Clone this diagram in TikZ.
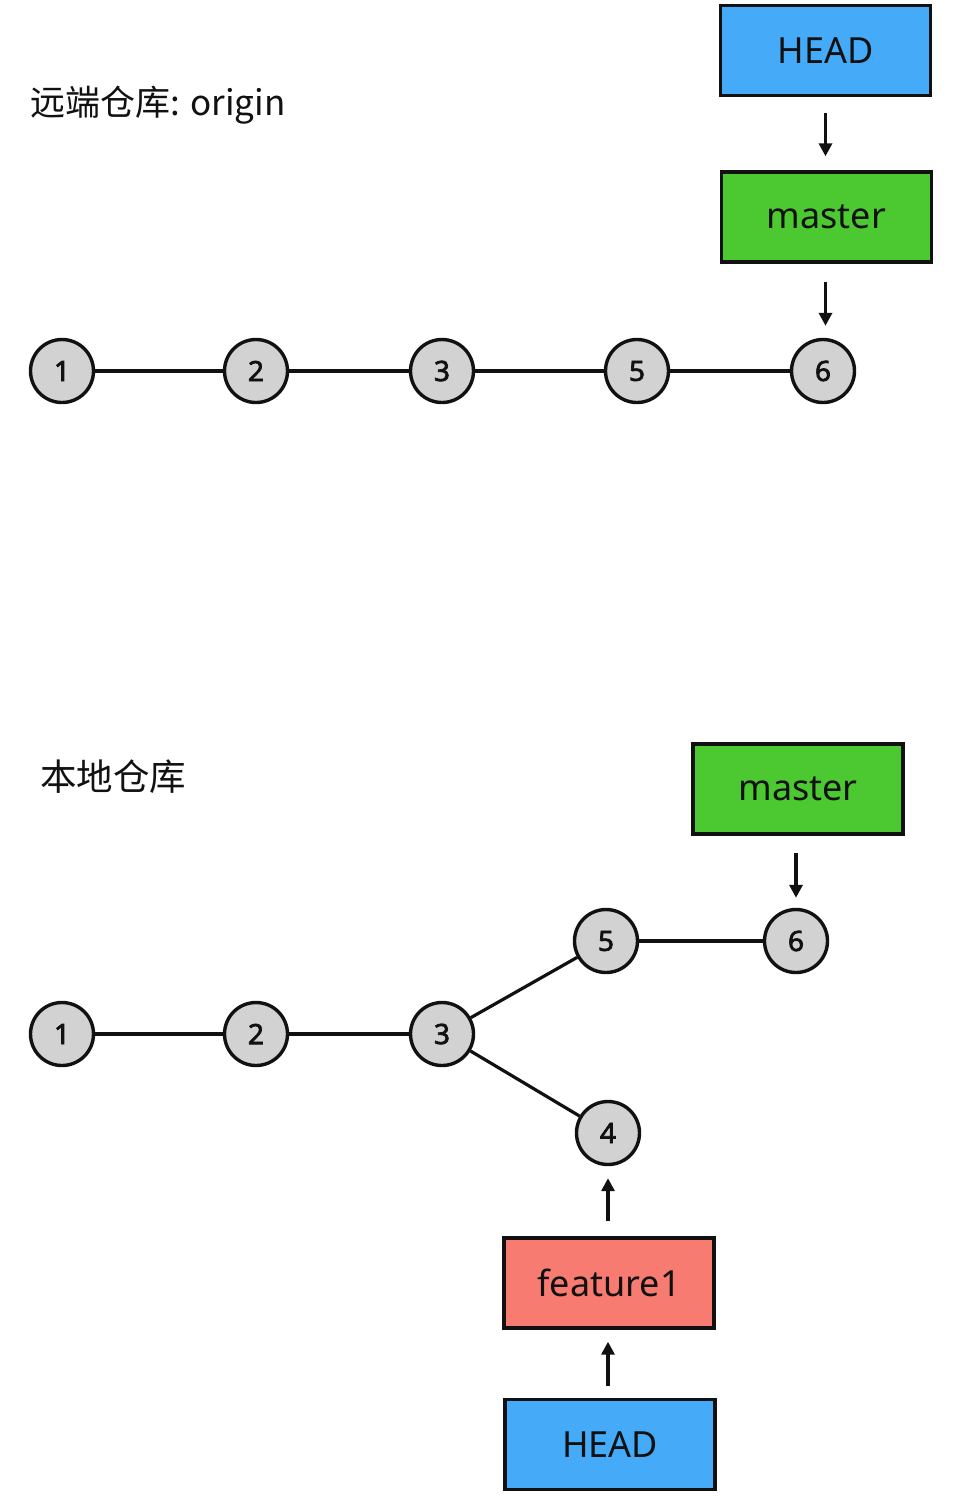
\documentclass[tikz,border=0pt]{standalone}
\usepackage{fontspec}
\setmainfont{Noto Sans}
\newfontfamily\cjk{Noto Sans CJK SC}
\newfontfamily\digitfont[FakeBold=2.5]{Noto Sans}
\usetikzlibrary{arrows.meta}
\definecolor{headblue}{HTML}{45AAF8}
\definecolor{mastergreen}{HTML}{4CC930}
\definecolor{featred}{HTML}{F77B70}
\definecolor{commitgray}{HTML}{D2D2D2}
\definecolor{inkc}{HTML}{111111}
\begin{document}
\begin{tikzpicture}[x=1pt,y=-1pt,
  refbox/.style={draw=inkc,line width=3.4pt,minimum width=210pt,minimum height=90pt,inner sep=0pt,
    font=\fontsize{36}{40}\selectfont,text=inkc},
  commit/.style={circle,draw=inkc,line width=3.4pt,fill=commitgray,minimum size=63pt,inner sep=0pt,
    font=\digitfont\fontsize{28}{30}\selectfont,text=inkc},
  edge/.style={draw=inkc,line width=3.2pt},
  ptr/.style={draw=inkc,line width=3.4pt,-{Triangle[length=13pt,width=13pt]}},
  lbl/.style={anchor=west,inner sep=0pt,text=inkc,font=\cjk\fontsize{35}{40}\selectfont}
]
\useasboundingbox (0,0) rectangle (968,1502);
\fill[white] (0,0) rectangle (968,1502);

% ---- remote ----
\node[lbl] (rlabel) at (30,105) {远端仓库: origin};
\node[refbox,fill=headblue] (rhead) at (825.5,50.5) {HEAD};
\node[refbox,fill=mastergreen] (rmaster) at (826.5,217) {master};
\node[commit] (r1) at (62,371) {1};
\node[commit] (r2) at (256,371) {2};
\node[commit] (r3) at (442,371) {3};
\node[commit] (r5) at (637,371) {5};
\node[commit] (r6) at (823,371) {6};
\draw[edge] (r1) -- (r2);
\draw[edge] (r2) -- (r3);
\draw[edge] (r3) -- (r5);
\draw[edge] (r5) -- (r6);
\draw[ptr,shorten <=16pt,shorten >=14pt] (rhead.south) -- (rhead.south |- rmaster.north);
\draw[ptr,shorten <=18pt,shorten >=12pt] (rhead.south |- rmaster.south) -- (rhead.south |- r6.north);

% ---- local ----
\node[lbl,font=\cjk\fontsize{36.5}{40}\selectfont] (llabel) at (40,777) {本地仓库};
\node[refbox,fill=mastergreen] (lmaster) at (798,789) {master};
\node[commit] (l1) at (62,1034) {1};
\node[commit] (l2) at (256,1034) {2};
\node[commit] (l3) at (442,1034) {3};
\node[commit] (l5) at (606,941) {5};
\node[commit] (l6) at (796,941) {6};
\node[commit] (l4) at (608,1133) {4};
\node[refbox,fill=featred] (lfeat) at (609,1283) {feature1};
\node[refbox,fill=headblue] (lhead) at (610,1444.5) {HEAD};
\draw[edge] (l1) -- (l2);
\draw[edge] (l2) -- (l3);
\draw[edge] (l3) -- (l5);
\draw[edge] (l5) -- (l6);
\draw[edge] (l3) -- (l4);
\draw[ptr,shorten <=17pt,shorten >=10pt] (lmaster.south -| l6.north) -- (l6.north);
\draw[ptr,shorten <=15pt,shorten >=12pt] (lfeat.north -| l4.south) -- (l4.south);
\draw[ptr,shorten <=12pt,shorten >=12pt] (lhead.north -| l4.south) -- (lfeat.south -| l4.south);
\end{tikzpicture}
\end{document}
